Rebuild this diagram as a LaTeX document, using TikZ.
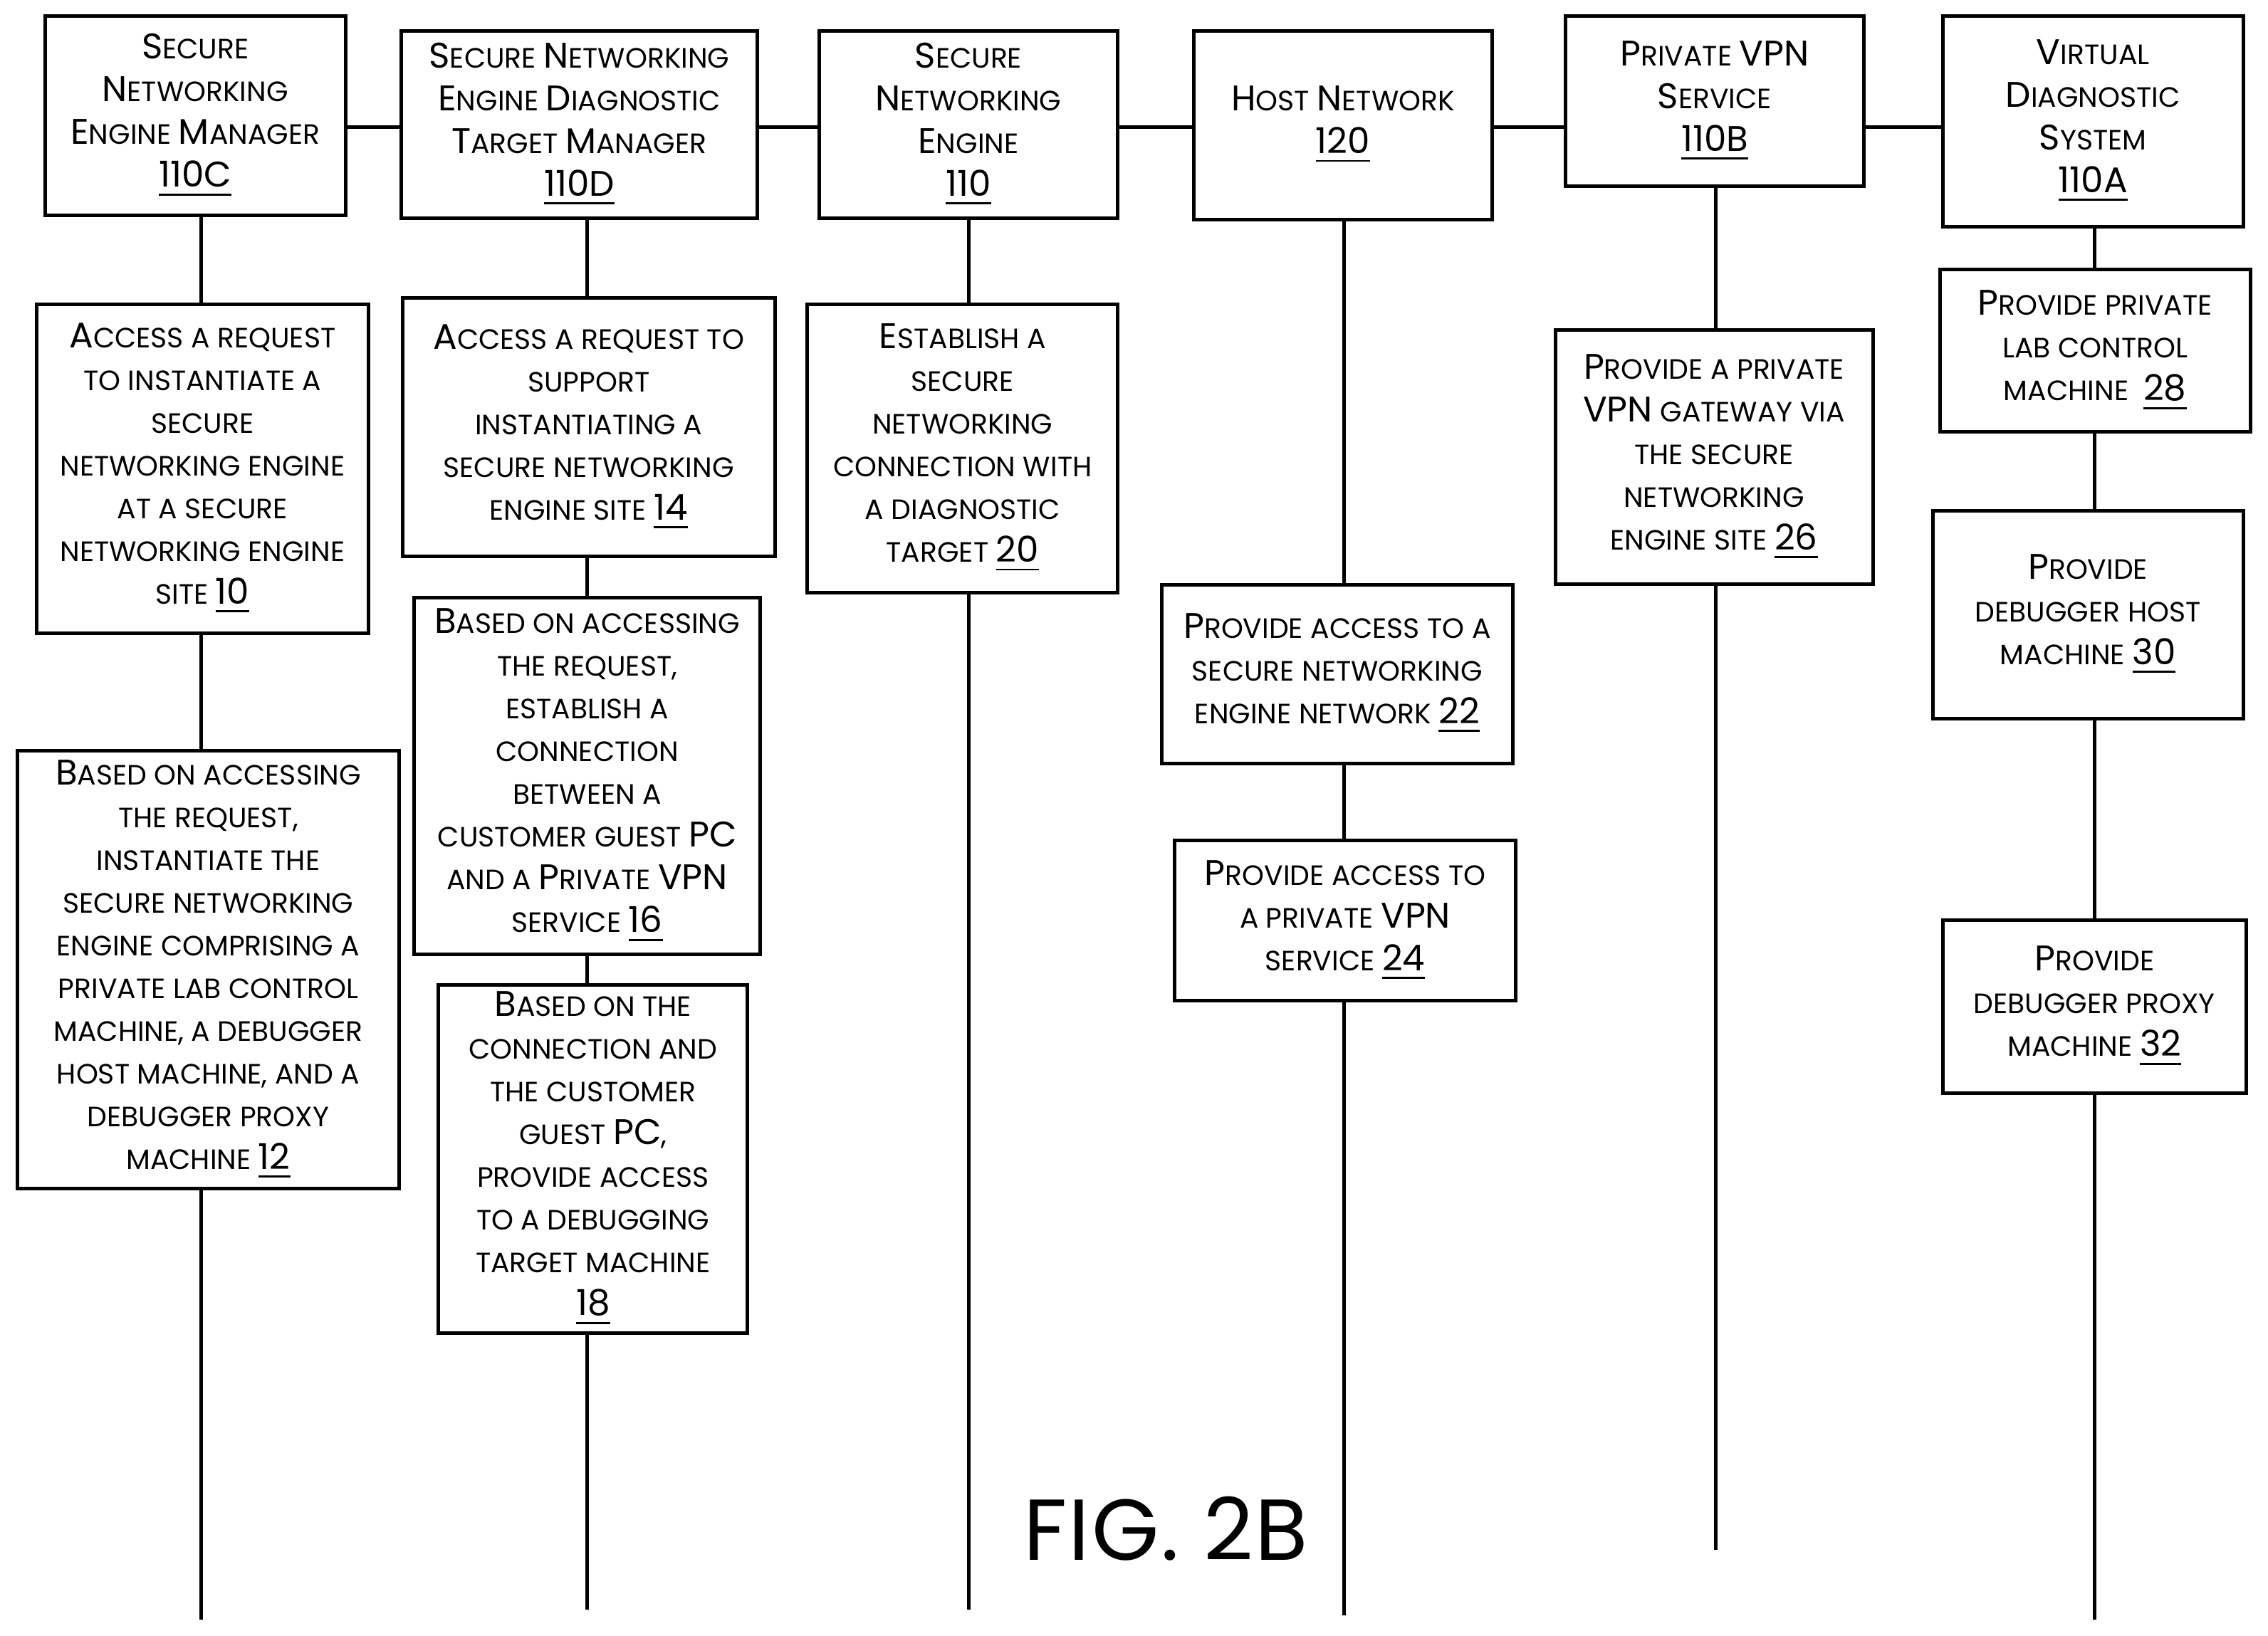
\documentclass[tikz,border=0pt]{standalone}
\usepackage{fontspec}
\setmainfont{Poppins}
\newcommand\Bg[1]{{\fontsize{7.0}{8.4}\selectfont #1}}
\newcommand\Un[1]{\underline{\Bg{#1}}}
\begin{document}
\begin{tikzpicture}[x=0.01cm,y=-0.01cm,
 bx/.style={draw,line width=0.7pt,fill=white,align=center,inner sep=0pt,font=\fontsize{5.5}{8.4}\selectfont},
 ln/.style={line width=0.7pt}]
\useasboundingbox (0,0) rectangle (1568,1131);
% lifelines
\coordinate (e1) at (139,1120); \coordinate (e2) at (406,1113); \coordinate (e3) at (670,1113);
\coordinate (e4) at (929,1117); \coordinate (e5) at (1186,1072); \coordinate (e6) at (1448,1120);
\draw[ln] (139,88) -- (1448,88);
\draw[ln] (139,150) -- (e1); \draw[ln] (406,150) -- (e2); \draw[ln] (670,150) -- (e3);
\draw[ln] (929,150) -- (e4); \draw[ln] (1186,130) -- (e5); \draw[ln] (1448,150) -- (e6);
\newcommand\bxat[6]{\node[bx,minimum width=#4*0.01cm-0.7pt,minimum height=#5*0.01cm-0.7pt] (#1) at (#2,#3) {#6};}
% headers
\bxat{h1}{135}{80}{210}{140}{\Bg{S}ECURE\\\Bg{N}ETWORKING\\\Bg{E}NGINE \Bg{M}ANAGER\\\Un{110C}}
\bxat{h2}{400.5}{86}{249}{132}{\Bg{S}ECURE \Bg{N}ETWORKING\\\Bg{E}NGINE \Bg{D}IAGNOSTIC\\\Bg{T}ARGET \Bg{M}ANAGER\\\Un{110D}}
\bxat{h3}{669.5}{86}{209}{132}{\Bg{S}ECURE\\\Bg{N}ETWORKING\\\Bg{E}NGINE\\\Un{110}}
\bxat{h4}{928.5}{86.5}{209}{133}{\Bg{H}OST \Bg{N}ETWORK\\\Un{120}}
\bxat{h5}{1185.5}{70}{209}{120}{\Bg{P}RIVATE \Bg{VPN}\\\Bg{S}ERVICE\\\Un{110B}}
\bxat{h6}{1447}{84}{210}{148}{\Bg{V}IRTUAL\\\Bg{D}IAGNOSTIC\\\Bg{S}YSTEM\\\Un{110A}}
% steps
\bxat{s10}{140}{324}{232}{230}{\Bg{A}CCESS A REQUEST\\TO INSTANTIATE A\\SECURE\\NETWORKING ENGINE\\AT A SECURE\\NETWORKING ENGINE\\SITE \Un{10}}
\bxat{s12}{144}{670.5}{266}{305}{\Bg{B}ASED ON ACCESSING\\THE REQUEST,\\INSTANTIATE THE\\SECURE NETWORKING\\ENGINE COMPRISING A\\PRIVATE LAB CONTROL\\MACHINE, A DEBUGGER\\HOST MACHINE, AND A\\DEBUGGER PROXY\\MACHINE \Un{12}}
\bxat{s14}{407}{295.5}{260}{181}{\Bg{A}CCESS A REQUEST TO\\SUPPORT\\INSTANTIATING A\\SECURE NETWORKING\\ENGINE SITE \Un{14}}
\bxat{s16}{406}{536.5}{242}{249}{\Bg{B}ASED ON ACCESSING\\THE REQUEST,\\ESTABLISH A\\CONNECTION\\BETWEEN A\\CUSTOMER GUEST \Bg{PC}\\AND A \Bg{P}RIVATE \Bg{VPN}\\SERVICE \Un{16}}
\bxat{s18}{410}{801.5}{216}{243}{\Bg{B}ASED ON THE\\CONNECTION AND\\THE CUSTOMER\\GUEST \Bg{PC},\\PROVIDE ACCESS\\TO A DEBUGGING\\TARGET MACHINE\\\Un{18}}
\bxat{s20}{665.5}{310}{217}{202}{\Bg{E}STABLISH A\\SECURE\\NETWORKING\\CONNECTION WITH\\A DIAGNOSTIC\\TARGET \Un{20}}
\bxat{s22}{924.5}{466}{245}{126}{\Bg{P}ROVIDE ACCESS TO A\\SECURE NETWORKING\\ENGINE NETWORK \Un{22}}
\bxat{s24}{930}{636.5}{238}{113}{\Bg{P}ROVIDE ACCESS TO\\A PRIVATE \Bg{VPN}\\SERVICE \Un{24}}
\bxat{s26}{1185}{316}{222}{178}{\Bg{P}ROVIDE A PRIVATE\\\Bg{VPN} GATEWAY VIA\\THE SECURE\\NETWORKING\\ENGINE SITE \Un{26}}
\bxat{s28}{1448.5}{242.5}{217}{115}{\Bg{P}ROVIDE PRIVATE\\LAB CONTROL\\MACHINE \ \Un{28}}
\bxat{s30}{1443.5}{425}{217}{146}{\Bg{P}ROVIDE\\DEBUGGER HOST\\MACHINE \Un{30}}
\bxat{s32}{1448}{696}{212}{122}{\Bg{P}ROVIDE\\DEBUGGER PROXY\\MACHINE \Un{32}}
\node[font=\fontsize{17}{20}\selectfont\addfontfeatures{LetterSpace=2}] (fig) at (806,1057) {FIG. 2B};
\end{tikzpicture}
\end{document}
